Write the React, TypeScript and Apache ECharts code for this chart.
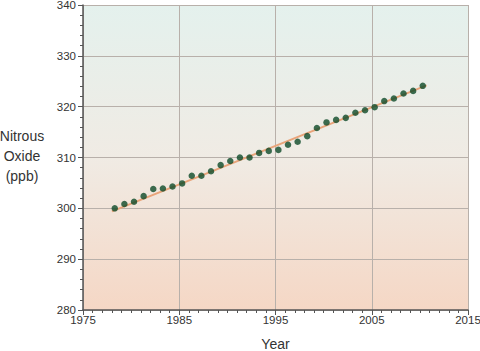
import React, { useEffect, useRef } from "react";
import * as echarts from "echarts";

const years = [
  1978.3, 1979.3, 1980.3, 1981.3, 1982.3, 1983.3, 1984.3, 1985.3, 1986.3, 1987.3,
  1988.3, 1989.3, 1990.3, 1991.3, 1992.3, 1993.3, 1994.3, 1995.3, 1996.3, 1997.3,
  1998.3, 1999.3, 2000.3, 2001.3, 2002.3, 2003.3, 2004.3, 2005.3, 2006.3, 2007.3,
  2008.3, 2009.3, 2010.3,
];
const n2o = [
  300.0, 300.85, 301.3, 302.4, 303.8, 303.9, 304.3, 304.9, 306.4, 306.4,
  307.3, 308.5, 309.3, 310.0, 310.0, 310.9, 311.3, 311.5, 312.5, 313.1,
  314.2, 315.8, 316.9, 317.4, 317.8, 318.8, 319.3, 319.9, 321.1, 321.6,
  322.6, 323.1, 324.1,
];
const trendX = [1978.0, 2010.7];
const trendY = [299.4, 324.2];
const xTicks = [1975, 1985, 1995, 2005, 2015];
const yTicks = [280, 290, 300, 310, 320, 330, 340];

export default function App() {
  const ref = useRef<HTMLDivElement>(null);
  useEffect(() => {
    if (!ref.current) return;
    const chart = echarts.init(ref.current, undefined, { renderer: "svg" });
    const axisColor = "#555555";
    const font = "Liberation Sans, Arial, sans-serif";
    const labelStyle = { color: "#333333", fontSize: 11.5, fontFamily: font };
    chart.setOption({
      animation: false,
      backgroundColor: "#ffffff",
      grid: {
        left: 83,
        right: 12,
        top: 5,
        bottom: 41,
        outerBoundsMode: "none",
        containLabel: false,
        show: true,
        borderWidth: 0,
        backgroundColor: {
          type: "linear",
          x: 0, y: 0, x2: 0, y2: 1,
          colorStops: [
            { offset: 0, color: "#e4f1ed" },
            { offset: 0.5, color: "#f0ebe4" },
            { offset: 1, color: "#f5d7c5" },
          ],
        },
      },
      graphic: [
        {
          type: "text",
          x: 22,
          y: 126,
          style: {
            text: "Nitrous\nOxide\n(ppb)",
            fill: "#333333",
            fontSize: 14,
            lineHeight: 20,
            align: "center",
            fontFamily: font,
          },
        },
      ],
      xAxis: {
        type: "value",
        min: xTicks[0],
        max: xTicks[xTicks.length - 1],
        interval: 10,
        name: "Year",
        nameLocation: "middle",
        nameGap: 27,
        nameTextStyle: { color: "#333333", fontSize: 14, fontFamily: font },
        axisLine: { show: true, lineStyle: { color: axisColor, width: 1.5 } },
        axisTick: { show: true, length: 5, lineStyle: { color: axisColor } },
        minorTick: { show: true, splitNumber: 10, length: 3, lineStyle: { color: axisColor } },
        axisLabel: { ...labelStyle, margin: 4, formatter: (v: number) => String(v) },
        splitLine: { show: true, lineStyle: { color: "#b8b0aa", width: 1 } },
      },
      yAxis: {
        type: "value",
        min: yTicks[0],
        max: yTicks[yTicks.length - 1],
        interval: 10,
        axisLine: { show: true, lineStyle: { color: axisColor, width: 1.5 } },
        axisTick: { show: true, length: 5, lineStyle: { color: axisColor } },
        minorTick: { show: true, splitNumber: 5, length: 3, lineStyle: { color: axisColor } },
        axisLabel: { ...labelStyle, margin: 7, formatter: (v: number) => String(v) },
        splitLine: { show: true, lineStyle: { color: "#b8b0aa", width: 1 } },
      },
      series: [
        {
          type: "line",
          data: trendX.map((x, i) => [x, trendY[i]]),
          symbol: "none",
          lineStyle: { color: "#e9a47a", width: 2 },
          z: 2,
        },
        {
          type: "scatter",
          data: years.map((x, i) => [x, n2o[i]]),
          symbolSize: 6.5,
          itemStyle: { color: "#0e4a28" },
          z: 3,
        },
      ],
    });
    return () => chart.dispose();
  }, []);
  return <div ref={ref} style={{ width: 480, height: 351, position: "absolute", left: 0, top: 0 }} />;
}
